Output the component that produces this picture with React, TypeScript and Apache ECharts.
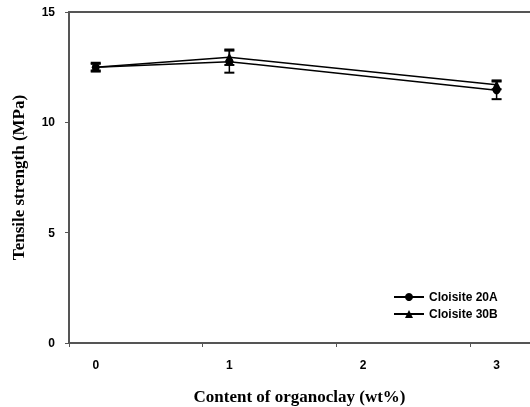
import React, { useEffect, useRef } from "react";
import * as echarts from "echarts";

const contents = [0, 1, 3];
const cloisite20A = [12.5, 12.75, 11.45];
const cloisite20AErr = [0.2, 0.5, 0.4];
const cloisite30B = [12.5, 12.95, 11.7];
const cloisite30BErr = [0.15, 0.35, 0.2];
const yTicks = [0, 5, 10, 15];
const xTicks = [0, 1, 2, 3];

export default function App() {
  const ref = useRef<HTMLDivElement>(null);
  useEffect(() => {
    const chart = echarts.init(ref.current!, null, { renderer: "svg" });
    const mkData = (vals: number[]) => contents.map((c, i) => [c, vals[i]]);
    const mkErr = (vals: number[], errs: number[]) =>
      contents.map((c, i) => [c, vals[i] - errs[i], vals[i] + errs[i]]);
    const errSeries = (name: string, vals: number[], errs: number[]) => ({
      type: "custom",
      name: name + " err",
      data: mkErr(vals, errs),
      z: 3,
      renderItem: (params: any, api: any) => {
        const x = api.value(0);
        const lo = api.coord([x, api.value(1)]);
        const hi = api.coord([x, api.value(2)]);
        const w = 5;
        const style = { stroke: "#000", lineWidth: 1.5 };
        return {
          type: "group",
          children: [
            { type: "line", shape: { x1: lo[0], y1: lo[1], x2: hi[0], y2: hi[1] }, style },
            { type: "line", shape: { x1: lo[0] - w, y1: lo[1], x2: lo[0] + w, y2: lo[1] }, style: { stroke: "#000", lineWidth: 2 } },
            { type: "line", shape: { x1: hi[0] - w, y1: hi[1], x2: hi[0] + w, y2: hi[1] }, style: { stroke: "#000", lineWidth: 2 } },
          ],
        };
      },
    });
    const axisLine = { show: true, onZero: false, lineStyle: { color: "#555", width: 2 } };
    chart.setOption({
      animation: false,
      grid: { left: 69, right: 0, top: 12, bottom: 64, outerBoundsMode: "none", containLabel: false },
      legend: {
        orient: "vertical",
        left: 388,
        top: 286,
        itemWidth: 30,
        itemHeight: 10,
        itemGap: 5,
        textStyle: { fontFamily: "Liberation Sans, Arial", fontWeight: "bold", fontSize: 12, color: "#000" },
        data: ["Cloisite 20A", "Cloisite 30B"],
      },
      xAxis: [
        {
          type: "value",
          min: -0.2,
          max: 3.25,
          interval: 1,
          name: "Content of organoclay (wt%)",
          nameLocation: "middle",
          nameGap: 45,
          nameMoveOverlap: false,
          nameTextStyle: { fontFamily: "Liberation Serif, Times New Roman", fontWeight: "bold", fontSize: 17, color: "#000" },
          axisLine,
          axisTick: { show: true, length: 4, lineStyle: { color: "#555", width: 1 } },
          axisLabel: {
            margin: 16,
            fontFamily: "Liberation Sans, Arial",
            fontWeight: "bold",
            fontSize: 12,
            color: "#000",
            customValues: xTicks,
            formatter: (v: number) => String(v),
          },
          splitLine: { show: false },
        },
        {
          type: "value",
          position: "top",
          min: -0.2,
          max: 3.25,
          axisLine,
          axisTick: { show: false },
          axisLabel: { show: false },
          splitLine: { show: false },
        },
      ],
      yAxis: {
        type: "value",
        min: 0,
        max: 15,
        interval: 5,
        name: "Tensile strength (MPa)",
        nameLocation: "middle",
        nameGap: 42,
        nameMoveOverlap: false,
        nameTextStyle: { fontFamily: "Liberation Serif, Times New Roman", fontWeight: "bold", fontSize: 17, color: "#000" },
        axisLine,
        axisTick: { show: true, length: 4, lineStyle: { color: "#555", width: 1 } },
        axisLabel: {
          margin: 14,
          fontFamily: "Liberation Sans, Arial",
          fontWeight: "bold",
          fontSize: 12,
          color: "#000",
          customValues: yTicks,
        },
        splitLine: { show: false },
      },
      series: [
        errSeries("Cloisite 20A", cloisite20A, cloisite20AErr),
        errSeries("Cloisite 30B", cloisite30B, cloisite30BErr),
        {
          type: "line",
          name: "Cloisite 20A",
          data: mkData(cloisite20A),
          symbol: "circle",
          symbolSize: 8,
          z: 4,
          lineStyle: { color: "#000", width: 1.5 },
          itemStyle: { color: "#000" },
        },
        {
          type: "line",
          name: "Cloisite 30B",
          data: mkData(cloisite30B),
          symbol: "triangle",
          symbolSize: 9,
          z: 4,
          lineStyle: { color: "#000", width: 1.5 },
          itemStyle: { color: "#000" },
        },
      ],
    });
    return () => chart.dispose();
  }, []);
  return <div ref={ref} style={{ position: "fixed", left: 0, top: 0, width: 530, height: 407 }} />;
}
